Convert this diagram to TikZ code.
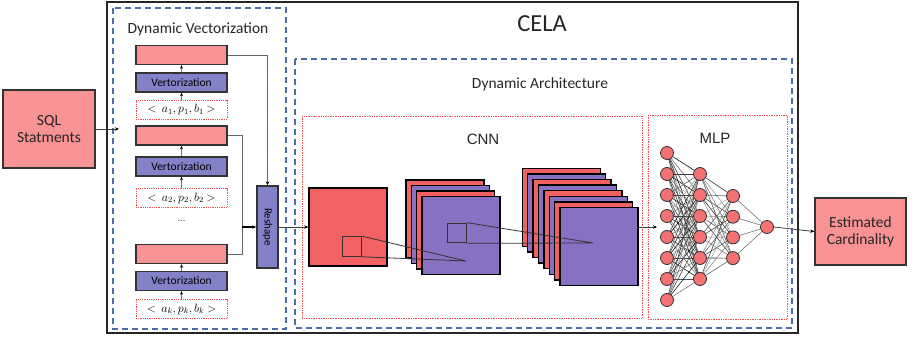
\documentclass[tikz,border=0pt]{standalone}
\usepackage{fontspec}
\setmainfont{Carlito}
\newfontfamily\arialfont{Liberation Sans}
\usetikzlibrary{arrows.meta}

\definecolor{lightred}{HTML}{F99292}
\definecolor{vecpurple}{HTML}{8282C8}
\definecolor{cnnred}{HTML}{F26262}
\definecolor{cnnpurple}{HTML}{8870C2}
\definecolor{neuronred}{HTML}{F47272}
\definecolor{dashblue}{HTML}{4C6CAA}
\definecolor{dotred}{HTML}{F05050}

\begin{document}
\begin{tikzpicture}[x=1pt,y=-1pt,
  bigtext/.style={font=\fontsize{15.5}{17}\selectfont, text=black!85},
  redbox/.style={draw=black!80, line width=1.4pt, fill=lightred, inner sep=0pt},
  vecbox/.style={draw=black!80, line width=1.4pt, fill=vecpurple, inner sep=0pt,
    font=\fontsize{11.5}{13}\selectfont},
  tuplebox/.style={draw=dotred, densely dotted, line width=0.8pt, inner sep=0pt,
    font=\fontsize{12}{13}\selectfont},
  rowbox/.style={minimum width=91, minimum height=19},
  bluedash/.style={draw=dashblue, dash pattern=on 6pt off 4pt, line width=1.3pt},
  reddot/.style={draw=dotred, densely dotted, line width=0.7pt},
  cnnsq/.style={draw=black, line width=1.4pt, minimum size=78, inner sep=0pt},
  kernel/.style={draw=black!80, line width=1.1pt, minimum size=19.5, inner sep=0pt},
  proj/.style={draw=black!80, line width=0.8pt},
  neuron/.style={circle, draw=black!80, line width=0.8pt, fill=neuronred,
    minimum size=13, inner sep=0pt},
  upar/.style={draw=black!55, line width=0.6pt, -{Stealth[length=3.5pt,width=3pt,color=black]}},
  link/.style={draw=black!60, line width=1pt},
  flow/.style={draw=black!75, line width=0.8pt, -{Stealth[length=4pt,width=3.5pt,color=black]}}
]
\useasboundingbox (0,0) rectangle (914,340);

% ---------- frames ----------
\draw[draw=black!85, line width=2pt] (107,2) rectangle (798,333);
\node[font=\fontsize{24.5}{27}\selectfont, text=black!85] (celatitle) at (542,24) {CELA};

\draw[bluedash] (113,8) rectangle (286,329);
\node[bigtext] (dvtitle) at (198,29) {Dynamic Vectorization};

\draw[bluedash] (295,59) rectangle (792,328);
\node[bigtext] (datitle) at (540,84) {Dynamic Architecture};

\draw[reddot] (302,116) rectangle (642,318);
\node[font=\arialfont\fontsize{15}{17}\selectfont, text=black!85] (cnntitle) at (483,139) {CNN};

\draw[reddot] (648,115) rectangle (787,319);
\node[font=\arialfont\fontsize{15}{17}\selectfont, text=black!85] (mlptitle) at (715,138) {MLP};

% ---------- input / output ----------
\node[redbox, minimum width=92, minimum height=78, bigtext, align=center]
  (sql) at (49,129) {SQL\\Statments};
\coordinate (sqlin) at (119,129);
\draw[flow] (sql.east) -- (sqlin);

\node[redbox, minimum width=91, minimum height=67, bigtext, align=center]
  (est) at (860.5,231.5) {Estimated\\Cardinality};

% ---------- dynamic vectorization column ----------
\node[redbox, rowbox] (r1) at (181.5,55) {};
\node[vecbox, rowbox] (v1) at (181.5,82.5) {Vertorization};
\node[tuplebox, rowbox] (t1) at (181.5,109.5) {$<$\ \ $a_1, p_1, b_1$\ $>$};

\node[redbox, rowbox] (r2) at (181.5,135.5) {};
\node[vecbox, rowbox] (v2) at (181.5,166.5) {Vertorization};
\node[tuplebox, rowbox] (t2) at (181.5,198) {$<$\ \ $a_2, p_2, b_2$\ $>$};

\node[font=\fontsize{10}{12}\selectfont, text=black!70] (dots) at (181.5,221) {...};

\node[redbox, rowbox] (rk) at (181.5,254) {};
\node[vecbox, rowbox] (vk) at (181.5,281) {Vertorization};
\node[tuplebox, rowbox] (tk) at (181.5,309) {$<$\ \ $a_k, p_k, b_k$\ $>$};

\foreach \n in {1,2,k}{
  \draw[upar] (t\n.north) -- (v\n.south);
  \draw[upar] (v\n.north) -- (r\n.south);
}

% ---------- reshape ----------
\node[vecbox, minimum width=21, minimum height=82] (reshape) at (267.5,227) {};
\node[rotate=-90, font=\fontsize{11}{13}\selectfont] (reshapetxt) at (reshape.center) {Reshape};

\coordinate (join) at (242,227);
\draw[link, -{Stealth[length=4pt,width=3.5pt,color=black]}] (r1.east) -| (reshape.north);
\draw[link] (r2.east) -| (join);
\draw[link] (rk.east) -| (join);
\draw[draw=black, line width=1.2pt, -{Stealth[length=4pt,width=3.5pt]}] (join) -- (reshape.west);

% ---------- CNN ----------
\node[cnnsq, fill=cnnred] (c1) at (348,227) {};
\draw[flow] (reshape.east) -- (c1.west);

% second feature-map stack (4 maps)
\foreach \k [evaluate=\k as \cx using 444.8+5.4*\k,
             evaluate=\k as \cy using 219+5.5*\k] in {0,...,3}{
  \pgfmathtruncatemacro\odd{mod(\k,2)}
  \ifnum\odd=0
    \node[cnnsq, fill=cnnred] (s2-\k) at (\cx,\cy) {};
  \else
    \node[cnnsq, fill=cnnpurple] (s2-\k) at (\cx,\cy) {};
  \fi
}

% third feature-map stack (8 maps)
\foreach \k [evaluate=\k as \cx using 561.2+5.4*\k,
             evaluate=\k as \cy using 207.3+5.6*\k] in {0,...,7}{
  \pgfmathtruncatemacro\odd{mod(\k,2)}
  \ifnum\odd=0
    \node[cnnsq, fill=cnnred] (s3-\k) at (\cx,\cy) {};
  \else
    \node[cnnsq, fill=cnnpurple] (s3-\k) at (\cx,\cy) {};
  \fi
}

% receptive fields and their projections
\node[kernel] (k1) at (352,246.5) {};
\coordinate (p1) at (466,261);
\draw[proj] (k1.north east) -- (p1) -- (k1.south east);

\node[kernel] (k2) at (457,233) {};
\coordinate (p2) at (593,243);
\draw[proj] (k2.north east) -- (p2) -- (k2.south east);

% ---------- MLP ----------
\coordinate (mlpin) at (657,227);
\draw[flow] (s3-7.east |- mlpin) -- (mlpin);

% connections (drawn first, under the neurons)
\foreach \i in {1,...,8}{
  \foreach \j in {1,...,6}{
    \pgfmathtruncatemacro\shade{40+mod(\i*37+\j*17,55)}
    \draw[draw=black!\shade, line width=0.6pt]
      (667,153+21*\i-21) -- (700,174+21*\j-21);
  }
}
\foreach \j in {1,...,6}{
  \foreach \k in {1,...,4}{
    \pgfmathtruncatemacro\shade{35+mod(\j*29+\k*13,50)}
    \draw[draw=black!\shade, line width=0.6pt]
      (700,174+21*\j-21) -- (733,196+20.7*\k-20.7);
  }
}
\foreach \k in {1,...,4}{
  \draw[draw=black!55, line width=0.6pt] (733,196+20.7*\k-20.7) -- (767,227);
}

\foreach \i in {1,...,8}{
  \node[neuron] (n1-\i) at (667,153+21*\i-21) {};
}
\foreach \j in {1,...,6}{
  \node[neuron] (n2-\j) at (700,174+21*\j-21) {};
}
\foreach \k in {1,...,4}{
  \node[neuron] (n3-\k) at (733,196+20.7*\k-20.7) {};
}
\node[neuron] (nout) at (767,227) {};

\draw[flow] (nout.east) -- (est.west);
\end{tikzpicture}
\end{document}
